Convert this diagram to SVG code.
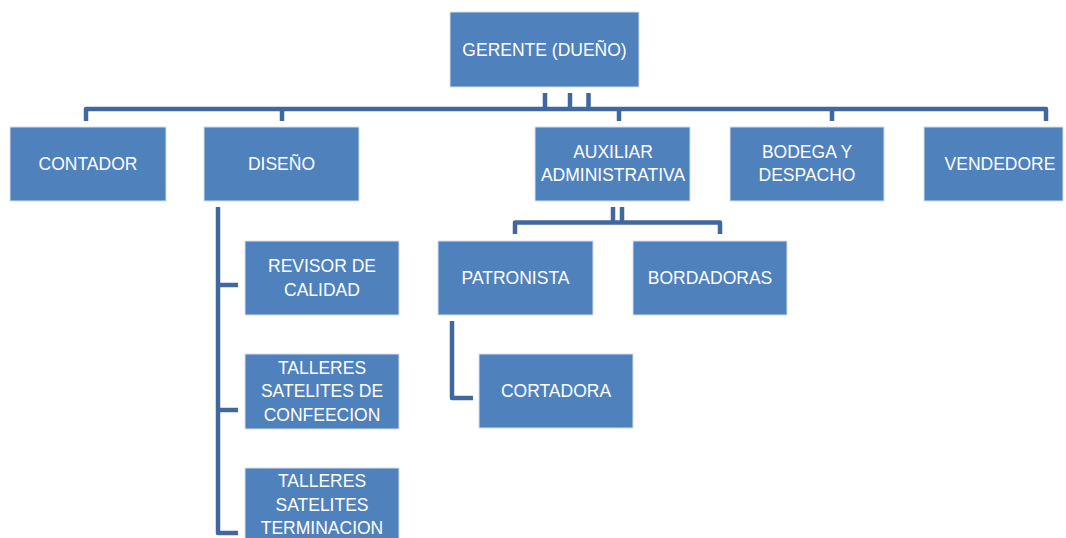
<svg xmlns="http://www.w3.org/2000/svg" width="1066" height="538" viewBox="0 0 1066 538">
<style>
.box{fill:#4f81bd;stroke:#d6e0ee;stroke-width:1}
.t{fill:#ffffff;font-family:"Liberation Sans",Arial,sans-serif;font-size:17.5px;text-anchor:middle}
.c{fill:none;stroke:#41689e;stroke-width:4.5;stroke-linejoin:round;stroke-linecap:butt}
</style>
<rect width="1066" height="538" fill="#ffffff"/>
<g id="connectors">
<path class="c" d="M86 121 V109 H1046 V121"/>
<path class="c" d="M545 93 V109"/>
<path class="c" d="M570 93 V109"/>
<path class="c" d="M588.5 93 V109"/>
<path class="c" d="M282 109 V121"/>
<path class="c" d="M619 109 V121"/>
<path class="c" d="M832 109 V121"/>
<path class="c" d="M613 207 V222"/>
<path class="c" d="M622 207 V222"/>
<path class="c" d="M515 234 V222.5 H720 V234"/>
<path class="c" d="M218 207 V533 H238"/>
<path class="c" d="M218 285 H238"/>
<path class="c" d="M218 410 H238"/>
<path class="c" d="M452 321 V398 H473"/>
</g>
<g id="gerente"><rect class="box" x="450" y="12" width="189" height="75"/><text class="t" x="544.5" y="56">GERENTE (DUEÑO)</text></g>
<g id="contador"><rect class="box" x="10" y="127" width="156" height="74"/><text class="t" x="88" y="170">CONTADOR</text></g>
<g id="diseno"><rect class="box" x="204" y="127" width="155" height="74"/><text class="t" x="281.5" y="170">DISEÑO</text></g>
<g id="auxiliar"><rect class="box" x="535" y="127" width="155" height="74"/><text class="t" x="613" y="158">AUXILIAR</text><text class="t" x="613" y="181">ADMINISTRATIVA</text></g>
<g id="bodega"><rect class="box" x="730" y="127" width="154" height="74"/><text class="t" x="807" y="158">BODEGA Y</text><text class="t" x="807" y="181">DESPACHO</text></g>
<g id="vendedore"><rect class="box" x="924" y="127" width="139" height="74"/><text class="t" x="1000" y="170">VENDEDORE</text></g>
<g id="revisor"><rect class="box" x="245" y="241" width="154" height="74"/><text class="t" x="322" y="272">REVISOR DE</text><text class="t" x="322" y="296">CALIDAD</text></g>
<g id="talleres-confeccion"><rect class="box" x="245" y="354" width="154" height="75"/><text class="t" x="322" y="374">TALLERES</text><text class="t" x="322" y="397">SATELITES DE</text><text class="t" x="322" y="421">CONFEECION</text></g>
<g id="talleres-terminacion"><rect class="box" x="245" y="468" width="154" height="75"/><text class="t" x="322" y="487">TALLERES</text><text class="t" x="322" y="511">SATELITES</text><text class="t" x="322" y="534">TERMINACION</text></g>
<g id="patronista"><rect class="box" x="438" y="241" width="155" height="74"/><text class="t" x="515.5" y="284">PATRONISTA</text></g>
<g id="bordadoras"><rect class="box" x="633" y="241" width="154" height="74"/><text class="t" x="710" y="284">BORDADORAS</text></g>
<g id="cortadora"><rect class="box" x="479" y="354" width="154" height="74"/><text class="t" x="556" y="397">CORTADORA</text></g>
</svg>
